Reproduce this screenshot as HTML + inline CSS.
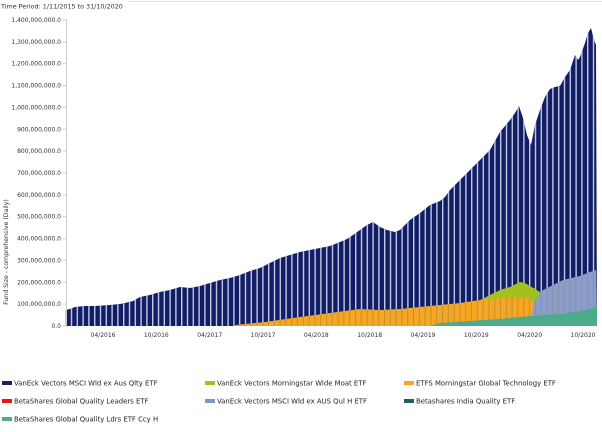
<!DOCTYPE html>
<html>
<head>
<meta charset="utf-8">
<style>
  html,body{margin:0;padding:0;background:#fff;}
  body{width:602px;height:432px;overflow:hidden;}
  svg{display:block;font-family:"DejaVu Sans","Liberation Sans",sans-serif;}
  .ax{font-size:6px;fill:#333;}
  .lg{font-size:6.9px;fill:#222;}
</style>
</head>
<body>
<svg width="602" height="432" viewBox="0 0 602 432" xmlns="http://www.w3.org/2000/svg">
  <defs>
    <pattern id="stripesL" x="65" y="0" width="5.8" height="10" patternUnits="userSpaceOnUse">
      <rect x="0" y="0" width="1.4" height="10" fill="#c3c8e2"/>
    </pattern>
    <pattern id="stripesD" x="65" y="0" width="5.8" height="10" patternUnits="userSpaceOnUse">
      <rect x="0" y="0" width="1" height="10" fill="#7a7a40" fill-opacity="0.45"/>
    </pattern>
    <clipPath id="navyClip">
      <path d="M65,326 L65,310 L70,309 L75,307 L85,306 L95,306 L110,305 L120,304 L125,303 L133,301 L140,297 L150,295 L160,292 L170,290 L180,287 L190,288 L200,286 L210,283 L220,280 L230,278 L240,275 L250,271 L260,268 L270,263 L280,258 L290,255 L300,252 L310,250 L320,248 L330,246 L340,242 L347,239 L353,235 L360,230 L367,225 L373,222 L380,227 L387,230 L395,232 L400,230 L410,220 L420,213 L430,205 L440,201 L445,197 L450,190 L460,180 L470,170 L480,160 L490,150 L500,132 L510,120 L515,113 L519,106 L523,118 L527,135 L531,145 L535,125 L540,110 L545,97 L550,89 L555,87 L560,86 L565,77 L570,70 L575,55 L578,60 L580,57 L585,43 L588,33 L591,28 L594,40 L596,45 L597,326 Z"/>
    </clipPath>
  </defs>

  <!-- top border -->
  <line x1="128" y1="1.5" x2="602" y2="1.5" stroke="#e4e4e4" stroke-width="1"/>

  <text x="1" y="8.5" class="ax" style="font-size:6.4px">Time Period: 1/11/2015 to 31/10/2020</text>

  <!-- navy series -->
  <path d="M65,326 L65,310 L70,309 L75,307 L85,306 L95,306 L110,305 L120,304 L125,303 L133,301 L140,297 L150,295 L160,292 L170,290 L180,287 L190,288 L200,286 L210,283 L220,280 L230,278 L240,275 L250,271 L260,268 L270,263 L280,258 L290,255 L300,252 L310,250 L320,248 L330,246 L340,242 L347,239 L353,235 L360,230 L367,225 L373,222 L380,227 L387,230 L395,232 L400,230 L410,220 L420,213 L430,205 L440,201 L445,197 L450,190 L460,180 L470,170 L480,160 L490,150 L500,132 L510,120 L515,113 L519,106 L523,118 L527,135 L531,145 L535,125 L540,110 L545,97 L550,89 L555,87 L560,86 L565,77 L570,70 L575,55 L578,60 L580,57 L585,43 L588,33 L591,28 L594,40 L596,45 L597,326 Z" fill="#111d64"/>
  <rect x="65" y="0" width="533" height="326" fill="url(#stripesL)" clip-path="url(#navyClip)"/>

  <!-- lime (wide moat) -->
  <path d="M478,326 L480,300 L490,295 L500,290 L510,287 L520,282 L525,283 L530,286 L535,289 L540,292 L545,300 L548,326 Z" fill="#a2c11c"/>

  <!-- orange (tech) -->
  <path d="M235,326 L235,325 L265,322 L300,317 L330,313 L360,309 L380,310 L400,309 L430,306 L460,303 L480,300 L510,297 L527,298 L531,300 L536,306 L540,312 L545,316 L597,316 L597,326 Z" fill="#f6a623"/>
  <path d="M235,326 L235,325 L265,322 L300,317 L330,313 L360,309 L380,310 L400,309 L430,306 L460,303 L480,300 L510,297 L527,298 L531,300 L536,306 L540,312 L545,316 L597,316 L597,326 Z" fill="url(#stripesD)"/>

  <!-- light blue (hedged) -->
  <path d="M531,326 L533,308 L535,300 L543,290 L563,280 L580,276 L590,272 L596,270 L597,326 Z" fill="#8b9dcb"/>
  <path d="M531,326 L533,308 L535,300 L543,290 L563,280 L580,276 L590,272 L596,270 L597,326 Z" fill="url(#stripesD)" opacity="0.6"/>

  <!-- teal -->
  <path d="M430,326 L440,323 L470,321 L500,319 L530,316 L560,314 L580,311 L590,309 L597,306 L597,326 Z" fill="#4bab8b"/>

  <!-- y axis -->
  <line x1="66.5" y1="19" x2="66.5" y2="327" stroke="#d0d0d0" stroke-width="1"/>
  <g stroke="#d0d0d0" stroke-width="1">
    <line x1="63" y1="326" x2="66" y2="326"/>
    <line x1="63" y1="304.1" x2="66" y2="304.1"/>
    <line x1="63" y1="282.3" x2="66" y2="282.3"/>
    <line x1="63" y1="260.4" x2="66" y2="260.4"/>
    <line x1="63" y1="238.6" x2="66" y2="238.6"/>
    <line x1="63" y1="216.7" x2="66" y2="216.7"/>
    <line x1="63" y1="194.9" x2="66" y2="194.9"/>
    <line x1="63" y1="173" x2="66" y2="173"/>
    <line x1="63" y1="151.1" x2="66" y2="151.1"/>
    <line x1="63" y1="129.3" x2="66" y2="129.3"/>
    <line x1="63" y1="107.4" x2="66" y2="107.4"/>
    <line x1="63" y1="85.6" x2="66" y2="85.6"/>
    <line x1="63" y1="63.7" x2="66" y2="63.7"/>
    <line x1="63" y1="41.9" x2="66" y2="41.9"/>
    <line x1="63" y1="20" x2="66" y2="20"/>
  </g>
  <g class="ax" text-anchor="end">
    <text x="61" y="328">0.0</text>
    <text x="61" y="306.1">100,000,000.0</text>
    <text x="61" y="284.3">200,000,000.0</text>
    <text x="61" y="262.4">300,000,000.0</text>
    <text x="61" y="240.6">400,000,000.0</text>
    <text x="61" y="218.7">500,000,000.0</text>
    <text x="61" y="196.9">600,000,000.0</text>
    <text x="61" y="175">700,000,000.0</text>
    <text x="61" y="153.1">800,000,000.0</text>
    <text x="61" y="131.3">900,000,000.0</text>
    <text x="61" y="109.4">1,000,000,000.0</text>
    <text x="61" y="87.6">1,100,000,000.0</text>
    <text x="61" y="65.7">1,200,000,000.0</text>
    <text x="61" y="43.9">1,300,000,000.0</text>
    <text x="61" y="22">1,400,000,000.0</text>
  </g>
  <text class="ax" transform="translate(8,252) rotate(-90)" text-anchor="middle" style="font-size:6.2px">Fund Size - comprehensive (Daily)</text>

  <!-- x axis labels -->
  <g class="ax" text-anchor="middle">
    <text x="103" y="337">04/2016</text>
    <text x="156.3" y="337">10/2016</text>
    <text x="209.7" y="337">04/2017</text>
    <text x="263" y="337">10/2017</text>
    <text x="316.3" y="337">04/2018</text>
    <text x="369.7" y="337">10/2018</text>
    <text x="423" y="337">04/2019</text>
    <text x="476.3" y="337">10/2019</text>
    <text x="529.7" y="337">04/2020</text>
    <text x="583" y="337">10/2020</text>
  </g>

  <!-- legend -->
  <g class="lg">
    <rect x="2" y="381" width="10" height="4" fill="#1a1f5e"/>
    <text x="14" y="385.5">VanEck Vectors MSCI Wld ex Aus Qlty ETF</text>
    <rect x="205" y="381" width="10" height="4" fill="#9fc31d"/>
    <text x="217" y="385.5">VanEck Vectors Morningstar Wide Moat ETF</text>
    <rect x="404" y="381" width="10" height="4" fill="#f6a524"/>
    <text x="416" y="385.5">ETFS Morningstar Global Technology ETF</text>

    <rect x="2" y="399" width="10" height="4" fill="#e8161b"/>
    <text x="14" y="403.5">BetaShares Global Quality Leaders ETF</text>
    <rect x="205" y="399" width="10" height="4" fill="#8195c7"/>
    <text x="217" y="403.5">VanEck Vectors MSCI Wld ex AUS Qul H ETF</text>
    <rect x="404" y="399" width="10" height="4" fill="#1f5f5a"/>
    <text x="416" y="403.5">Betashares India Quality ETF</text>

    <rect x="2" y="417" width="10" height="4" fill="#4caf8c"/>
    <text x="14" y="421.5">BetaShares Global Quality Ldrs ETF Ccy H</text>
  </g>
</svg>
</body>
</html>
